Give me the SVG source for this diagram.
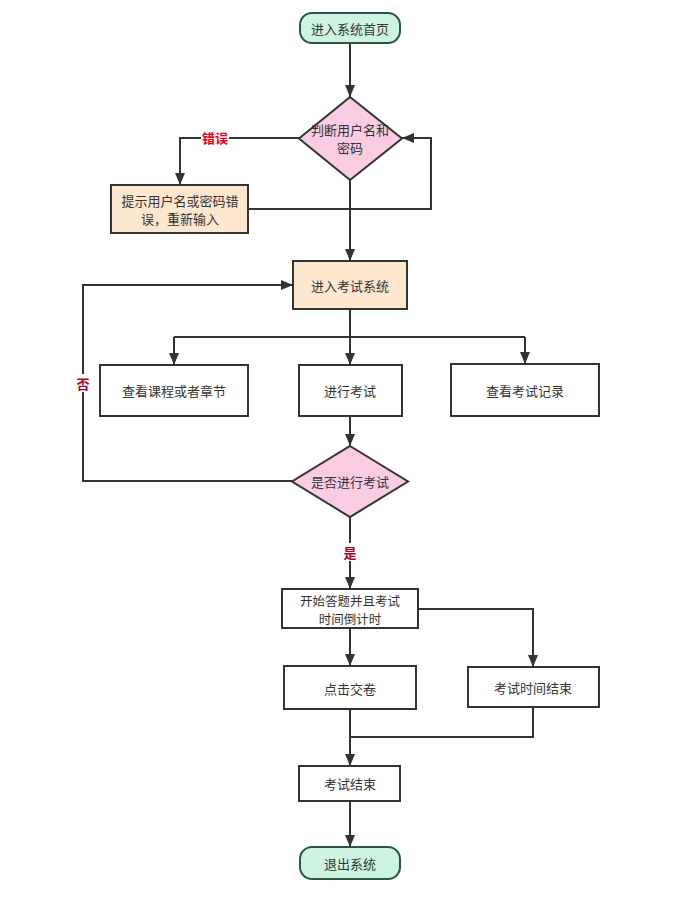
<svg xmlns="http://www.w3.org/2000/svg" width="677" height="905" viewBox="0 0 677 905">
<defs>
<marker id="arr" markerUnits="userSpaceOnUse" markerWidth="12" markerHeight="10" refX="12" refY="5" orient="auto">
<path d="M0,0 L12,5 L0,10 z" fill="#333"/>
</marker>
<style>
.t{font-family:"Noto Sans CJK SC","Liberation Sans",sans-serif;font-size:13px;fill:#333;text-anchor:middle;dominant-baseline:central}
.s{font-size:12.5px}
.box{fill:#fff;stroke:#333;stroke-width:2}
.term{fill:#ccf4e1;stroke:#2a5644;stroke-width:2}
.peach{fill:#fde7cf;stroke:#333;stroke-width:2}
.dia{fill:#f9cce4;stroke:#333;stroke-width:2}
.c{fill:none;stroke:#333;stroke-width:2}
.lbl{font-family:"Noto Sans CJK SC","Liberation Sans",sans-serif;font-size:13px;font-weight:bold;text-anchor:middle;dominant-baseline:central}
</style>
</defs>
<rect width="677" height="905" fill="#fff"/>
<g id="connectors">
<path class="c" d="M350,43 V97" marker-end="url(#arr)"/>
<path class="c" d="M299,138 H180 V185" marker-end="url(#arr)"/>
<path class="c" d="M248,209 H431 V138 H402" marker-end="url(#arr)"/>
<path class="c" d="M350,180 V261" marker-end="url(#arr)"/>
<path class="c" d="M350,309 V365" marker-end="url(#arr)"/>
<path class="c" d="M174,337 H525"/>
<path class="c" d="M174,337 V365" marker-end="url(#arr)"/>
<path class="c" d="M525,337 V364" marker-end="url(#arr)"/>
<path class="c" d="M350,416 V446" marker-end="url(#arr)"/>
<path class="c" d="M292,481 H83 V285 H293" marker-end="url(#arr)"/>
<path class="c" d="M350,517 V589" marker-end="url(#arr)"/>
<path class="c" d="M350,628 V666" marker-end="url(#arr)"/>
<path class="c" d="M418,609 H533 V667" marker-end="url(#arr)"/>
<path class="c" d="M533,707 V737 H350"/>
<path class="c" d="M350,709 V766" marker-end="url(#arr)"/>
<path class="c" d="M350,801 V847" marker-end="url(#arr)"/>
<rect x="201" y="128" width="28" height="18" fill="#fff"/>
<text class="lbl" x="215" y="137" fill="#e8001c">错误</text>
<rect x="75" y="374" width="16" height="18" fill="#fff"/>
<text class="lbl" x="83" y="383" fill="#b00026">否</text>
<rect x="342" y="543" width="16" height="18" fill="#fff"/>
<text class="lbl" x="350" y="552" fill="#b00026">是</text>
</g>
<g id="start">
<rect class="term" x="300" y="13" width="100" height="30" rx="12"/>
<text class="t" x="350" y="28">进入系统首页</text>
</g>
<g id="check-login">
<path class="dia" d="M350,97 L402,138.5 L350,180 L299,138.5 z"/>
<text class="t" x="350" y="129">判断用户名和</text>
<text class="t" x="350" y="147">密码</text>
</g>
<g id="login-error">
<rect class="peach" x="111" y="185" width="137" height="48"/>
<text class="t" x="180" y="200">提示用户名或密码错</text>
<text class="t" x="180" y="218">误，重新输入</text>
</g>
<g id="enter-exam">
<rect class="peach" x="293" y="261" width="114" height="48"/>
<text class="t" x="350" y="285">进入考试系统</text>
</g>
<g id="view-course">
<rect class="box" x="100" y="365" width="148" height="51"/>
<text class="t" x="174" y="390">查看课程或者章节</text>
</g>
<g id="take-exam">
<rect class="box" x="299" y="365" width="103" height="51"/>
<text class="t" x="350" y="390">进行考试</text>
</g>
<g id="view-records">
<rect class="box" x="451" y="364" width="148" height="52"/>
<text class="t" x="525" y="390">查看考试记录</text>
</g>
<g id="confirm-exam">
<path class="dia" d="M350,446 L408,481.5 L350,517 L292,481.5 z"/>
<text class="t" x="350" y="481">是否进行考试</text>
</g>
<g id="start-answer">
<rect class="box" x="282" y="589" width="136" height="39"/>
<text class="t s" x="350" y="600">开始答题并且考试</text>
<text class="t s" x="350" y="618">时间倒计时</text>
</g>
<g id="submit">
<rect class="box" x="284" y="666" width="132" height="43"/>
<text class="t" x="350" y="688">点击交卷</text>
</g>
<g id="time-up">
<rect class="box" x="468" y="667" width="131" height="40"/>
<text class="t" x="533" y="687">考试时间结束</text>
</g>
<g id="exam-end">
<rect class="box" x="299" y="766" width="101" height="35"/>
<text class="t" x="350" y="783">考试结束</text>
</g>
<g id="exit">
<rect class="term" x="300" y="847" width="100" height="32" rx="12"/>
<text class="t" x="350" y="863">退出系统</text>
</g>
</svg>
